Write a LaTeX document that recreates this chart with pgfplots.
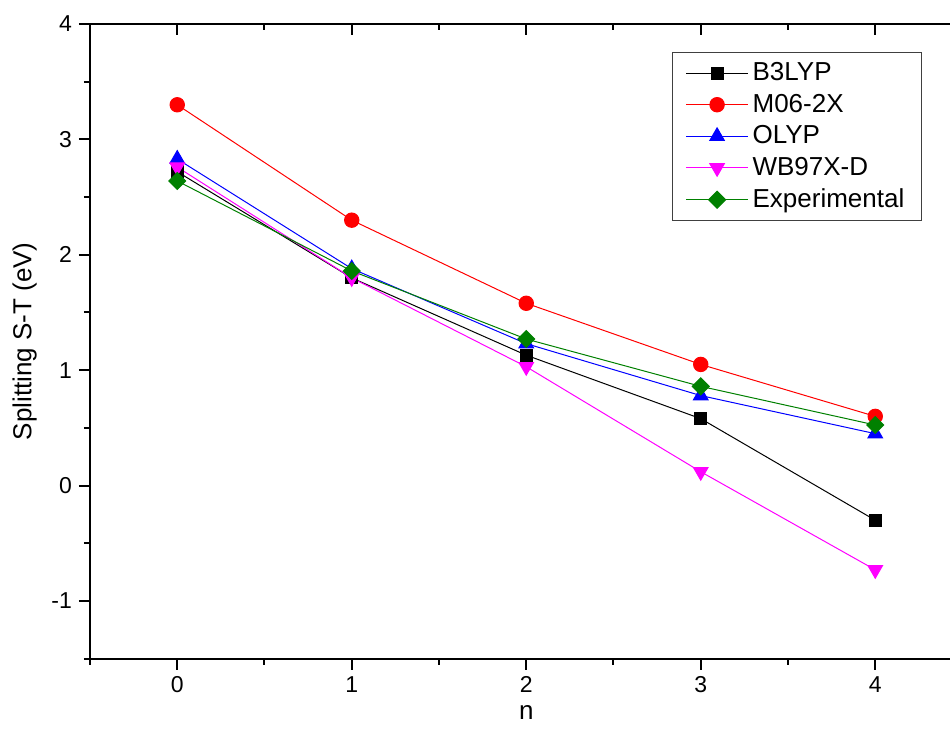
\documentclass[border=0pt]{standalone}
\usepackage{fontspec}
\setmainfont{Liberation Sans}
\usepackage{pgfplots}
\pgfplotsset{compat=1.18}
\definecolor{ogreen}{RGB}{0,128,0}
\definecolor{omag}{RGB}{255,0,255}
\begin{document}
\begin{tikzpicture}
\pgfplotsset{
  common/.style={
    at={(0,0)}, anchor=south west,
    scale only axis, width=436.25pt, height=317.35pt,
    xmin=-0.5, xmax=4.5, ymin=-1.5, ymax=4,
    axis line style={line width=1pt},
    major tick length=5.5pt, minor tick length=3pt,
    every tick/.style={line width=1pt, black},
    every minor tick/.style={line width=1pt, black},
    /pgf/number format/assume math mode=true,
    ticklabel style={font=\fontsize{11.5}{13}\selectfont},
  }
}
\begin{axis}[common,
  axis x line*=bottom, axis y line*=left,
  tick align=outside,
  xtick={0,1,2,3,4}, minor xtick={-0.5,0.5,1.5,2.5,3.5},
  ytick={-1,0,1,2,3,4}, minor ytick={-1.5,-0.5,0.5,1.5,2.5,3.5},
  xlabel={n}, ylabel={Splitting S-T (eV)},
  label style={font=\fontsize{13}{15}\selectfont},
  xlabel style={yshift=0.5pt},
  ylabel style={yshift=0.5pt},
  legend cell align=left,
  legend style={at={(0.9535,0.9559)}, anchor=north east, draw=black!75, line width=0.6pt,
    font=\fontsize{13}{15}\selectfont, row sep=1.2pt, inner xsep=6.5pt, inner ysep=3pt},
  legend image code/.code={\draw[mark repeat=2,mark phase=2,#1] plot coordinates {(0pt,0pt) (15.5pt,0pt) (31pt,0pt)};},
]
\addplot[black, line width=0.5pt, mark=square*, mark size=3pt, mark options={solid}] coordinates {
(0,2.72) (1,1.80) (2,1.13) (3,0.58) (4,-0.30)};
\addlegendentry{B3LYP}
\addplot[red, line width=0.5pt, mark=*, mark size=3.6pt] coordinates {
(0,3.30) (1,2.30) (2,1.58) (3,1.05) (4,0.60)};
\addlegendentry{M06-2X}
\addplot[blue, line width=0.5pt, mark=triangle*, mark size=4.2pt] coordinates {
(0,2.83) (1,1.88) (2,1.23) (3,0.78) (4,0.45)};
\addlegendentry{OLYP}
\addplot[omag, line width=0.5pt, mark=triangle*, mark size=4.2pt, mark options={rotate=180}] coordinates {
(0,2.76) (1,1.80) (2,1.03) (3,0.12) (4,-0.73)};
\addlegendentry{WB97X-D}
\addplot[ogreen, line width=0.5pt, mark=square*, mark size=3pt, mark options={rotate=45}] coordinates {
(0,2.64) (1,1.86) (2,1.27) (3,0.86) (4,0.525)};
\addlegendentry{Experimental}
\end{axis}
\begin{axis}[common,
  axis x line*=top, axis y line=none,
  tick align=inside,
  xtick={0,1,2,3,4}, minor xtick={-0.5,0.5,1.5,2.5,3.5},
  xticklabels={},
]
\addplot[draw=none] coordinates {(0,0)};
\end{axis}
\pgfresetboundingbox
\path[use as bounding box] (-45pt,-40.65pt) rectangle (430pt,329.35pt);
\end{tikzpicture}
\end{document}
